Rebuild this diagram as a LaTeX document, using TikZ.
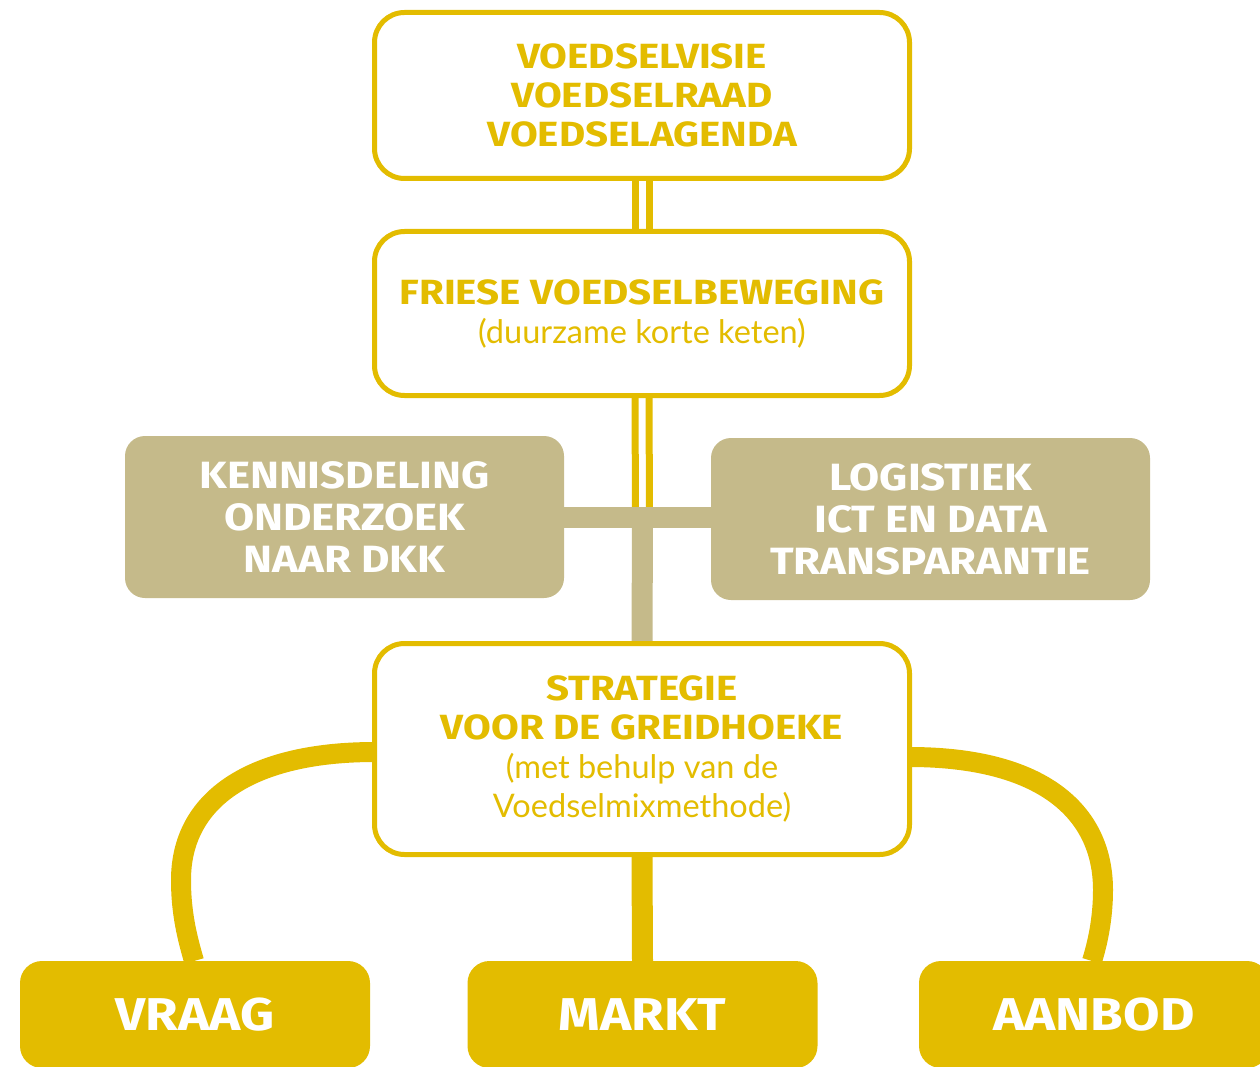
\documentclass[tikz,border=0pt]{standalone}
\usepackage{fontspec}
\setmainfont{Lato}
\newfontfamily\hd{Fira Sans}[FakeStretch=1.15]
\usetikzlibrary{backgrounds}
\definecolor{yel}{HTML}{E3BC00}
\definecolor{sand}{HTML}{C5BA8A}
\begin{document}
\begin{tikzpicture}[x=1pt,y=-1pt,
  wbox/.style={draw=yel, line width=5pt, fill=white, rounded corners=30pt,
    minimum width=535pt, align=center, inner sep=0pt, outer sep=0pt, text=yel,
    font=\fontsize{35}{39}\selectfont},
  gbox/.style={fill=sand, rounded corners=20pt, minimum width=439pt, minimum height=162pt,
    align=center, inner sep=0pt, outer sep=0pt, text=white,
    font=\hd\bfseries\fontsize{38}{42}\selectfont},
  ybox/.style={fill=yel, rounded corners=22pt, minimum width=350pt, minimum height=107pt,
    inner sep=0pt, outer sep=0pt, text=white, font=\hd\bfseries\fontsize{46}{50}\selectfont},
  dline/.style={yel, line width=7pt},
  gbar/.style={sand, line width=21pt},
  ybar/.style={yel, line width=21pt},
  curve/.style={yel, line width=20pt}
]
\useasboundingbox (0,0) rectangle (1260,1067);
\clip (0,0) rectangle (1260,1067);

\node[wbox, minimum height=166pt] (b1) at (642,95.5)
  {\hd\bfseries VOEDSELVISIE\\\hd\bfseries VOEDSELRAAD\\\hd\bfseries VOEDSELAGENDA};
\node[wbox, minimum height=164pt] (b2) at (642,313.5)
  {\hd\bfseries FRIESE VOEDSELBEWEGING\\\fontsize{32.5}{39}\selectfont (duurzame korte keten)};
\node[wbox, minimum height=211pt] (b3) at (642,749)
  {\hd\bfseries STRATEGIE\\\hd\bfseries VOOR DE GREIDHOEKE\\
   \fontsize{32.5}{38}\selectfont (met behulp van de\\\fontsize{32.5}{38}\selectfont Voedselmixmethode)};
\node[gbox] (gl) at (344.5,517) {KENNISDELING\\ONDERZOEK\\NAAR DKK};
\node[gbox] (gr) at (930.5,519) {LOGISTIEK\\ICT EN DATA\\TRANSPARANTIE};
\node[ybox] (vraag) at (195,1014.5) {VRAAG};
\node[ybox] (markt) at (642.5,1014.5) {MARKT};
\node[ybox] (aanbod) at (1094,1014.5) {AANBOD};
\coordinate (j) at (642.5,517.5);

\begin{scope}[on background layer]
  \draw[dline] ([xshift=-7pt]b1.south) -- ([xshift=-7pt]b2.north);
  \draw[dline] ([xshift=7pt]b1.south) -- ([xshift=7pt]b2.north);
  \draw[dline] ([xshift=-7pt]b2.south) -- ([xshift=-7pt]j);
  \draw[dline] ([xshift=7pt]b2.south) -- ([xshift=7pt]j);
  \draw[gbar] (gl.east |- j) -- (gr.west |- j);
  \draw[gbar] (j) -- (b3.north);
  \draw[ybar] (b3.south) -- (markt.north);
  \draw[curve] ([yshift=-3pt]b3.west) .. controls (250,752) and (181,800) .. (181,880)
     .. controls (181,915) and (188,940) .. ([xshift=-1pt]vraag.north);
  \draw[curve] ([yshift=-8pt]b3.east) .. controls (1040,757) and (1103,810) .. (1103,890)
     .. controls (1103,920) and (1097,945) .. ([xshift=-2pt]aanbod.north);
\end{scope}
\end{tikzpicture}
\end{document}
